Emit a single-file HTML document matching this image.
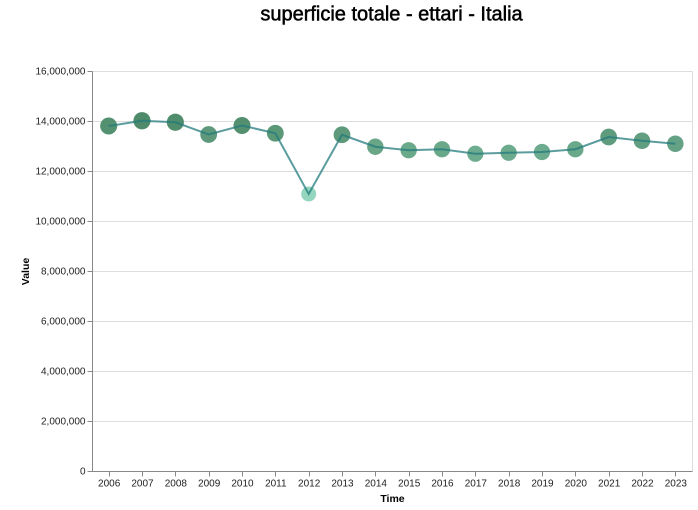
<!DOCTYPE html>
<html>
<head>
<meta charset="utf-8">
<style>
html,body{margin:0;padding:0;background:#fff;width:698px;height:510px;overflow:hidden}
svg{display:block;font-family:"Liberation Sans",Arial,sans-serif}
</style>
</head>
<body>
<svg id="chart" width="698" height="510" viewBox="0 0 698 510"></svg>
<script>
const categories = ["2006","2007","2008","2009","2010","2011","2012","2013","2014","2015","2016","2017","2018","2019","2020","2021","2022","2023"];
const seriesValues = [13820000,14030000,13970000,13480000,13840000,13530000,11100000,13470000,12990000,12850000,12890000,12710000,12750000,12780000,12890000,13380000,13230000,13110000];
const yTicks = [0,2000000,4000000,6000000,8000000,10000000,12000000,14000000,16000000];
const chartTitle = "superficie totale - ettari - Italia";

const NS = "http://www.w3.org/2000/svg";
const svg = document.getElementById("chart");
const plot = {left:92.5, right:692.5, top:71.5, bottom:471.5};
const yMax = 16000000;

function xScale(i){ const step=(plot.right-plot.left)/categories.length; return plot.left+step*(i+0.5); }
function markX(i){ return xScale(i)-0.5; }
function tickX(i){ return Math.floor(xScale(i))+0.5; }
function yScale(v){ return plot.bottom-(v/yMax)*(plot.bottom-plot.top); }
function fmt(v){ return v.toLocaleString("en-US"); }
function valueShare(v){
  const lo=Math.min(...seriesValues), hi=Math.max(...seriesValues);
  return hi===lo?1:(v-lo)/(hi-lo);
}
function colorScale(v){
  const t=valueShare(v);
  const a=[142,211,186], b=[70,133,98];
  return "rgb("+a.map((c,k)=>Math.round(c+(b[k]-c)*t)).join(",")+")";
}
function radiusScale(v){ return 7.5+1.1*valueShare(v); }
function make(tag,attrs,text){
  const el=document.createElementNS(NS,tag);
  for(const k in attrs) el.setAttribute(k,attrs[k]);
  if(text!==undefined) el.textContent=text;
  svg.appendChild(el);
  return el;
}

// plot border (right edge)
let el = make("path",{d:"M"+plot.right+" "+plot.top+"V"+plot.bottom,stroke:"#ddd",fill:"none"});



// gridlines
yTicks.forEach(function(t){
  if(t===0) return;
  const g=make("line",{x1:plot.left,x2:plot.right,y1:yScale(t),y2:yScale(t),stroke:"#ddd"});
  
  
});

// y axis
yTicks.forEach(function(t){
  const tk=make("line",{x1:plot.left-5,x2:plot.left,y1:yScale(t),y2:yScale(t),stroke:"#888"});
  
  
  const lb=make("text",{x:plot.left-7,y:yScale(t)+3,"text-anchor":"end","font-size":"10",fill:"#222"},fmt(t));
  
  
});
el = make("line",{x1:plot.left,x2:plot.left,y1:plot.top,y2:plot.bottom,stroke:"#888"});



// x axis
categories.forEach(function(c,i){
  const tk=make("line",{x1:tickX(i),x2:tickX(i),y1:plot.bottom,y2:plot.bottom+5,stroke:"#888"});
  
  
  const lb=make("text",{x:xScale(i),y:plot.bottom+15,"text-anchor":"middle","font-size":"10",fill:"#222"},c);
  
  
});
el = make("line",{x1:plot.left,x2:plot.right,y1:plot.bottom,y2:plot.bottom,stroke:"#888"});



// points
seriesValues.forEach(function(v,i){
  const p=make("circle",{cx:markX(i),cy:yScale(v),r:radiusScale(v),fill:colorScale(v),"fill-opacity":"0.95"});
  
  
});

// line, drawn over the points
const linePath=seriesValues.map((v,i)=>(i?"L":"M")+markX(i)+" "+yScale(v)).join("");
el = make("path",{d:linePath,fill:"none",stroke:"#247b7d","stroke-width":"2","stroke-opacity":"0.75"});



// titles
el = make("text",{x:391.5,y:20.5,"text-anchor":"middle","font-size":"20",fill:"#000",stroke:"#000","stroke-width":"0.5"},chartTitle);


el = make("text",{x:392.5,y:502,"text-anchor":"middle","font-size":"10.5","font-weight":"bold",fill:"#000"},"Time");


el = make("text",{transform:"translate(29,271.5) rotate(-90)","text-anchor":"middle","font-size":"10.5","font-weight":"bold",fill:"#000"},"Value");


</script>
</body>
</html>
